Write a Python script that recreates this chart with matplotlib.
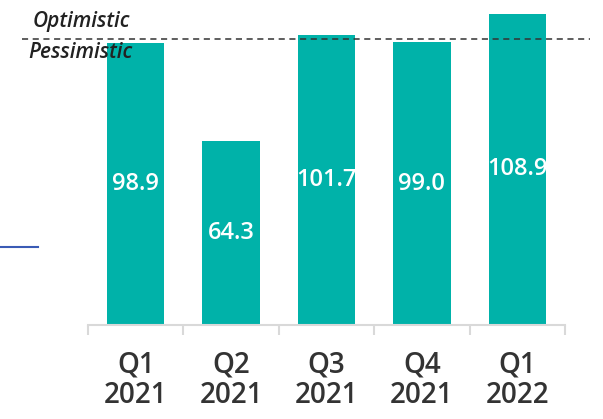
import matplotlib
matplotlib.use("Agg")
import matplotlib.pyplot as plt
from matplotlib.lines import Line2D

categories = ["Q1\n2021", "Q2\n2021", "Q3\n2021", "Q4\n2021", "Q1\n2022"]
values = [98.9, 64.3, 101.7, 99.0, 108.9]
threshold = 100
bar_color = "#00B2A9"

plt.rcParams["font.family"] = ["Open Sans", "DejaVu Sans"]

W, H = 603, 419
fig = plt.figure(figsize=(W / 100, H / 100), dpi=100)
ax = fig.add_axes([88 / W, 1 - 325 / H, 477 / W, 325 / H])

x = list(range(len(values)))
bars = ax.bar(x, values, width=0.6, color=bar_color)

# value labels centred in each bar
for xi, v in zip(x, values):
    ax.text(xi, v / 2, f"{v:.1f}", ha="center", va="center",
            color="white", fontsize=17, fontweight="semibold")

ax.set_xlim(-0.5, len(values) - 0.5)
ax.set_ylim(0, 113.8)

# optimistic / pessimistic divider
ax.axhline(threshold, xmin=-0.138, xmax=1.052, color="#333333",
           lw=1.1, ls=(0, (4, 3)), clip_on=False, zorder=3)
fig.text(33 / W, 1 - 21 / H, "Optimistic", style="italic", fontweight="semibold",
         fontsize=15, color="#222222", ha="left", va="center")
fig.text(28 / W, 1 - 52 / H, "Pessimistic", style="italic", fontweight="semibold",
         fontsize=15, color="#222222", ha="left", va="center", zorder=4)

for s in ["top", "right", "left"]:
    ax.spines[s].set_visible(False)
ax.spines["bottom"].set_color("#d9d9d9")
ax.spines["bottom"].set_linewidth(1.5)
ax.set_yticks([])

ax.set_xticks(x)
ax.set_xticklabels(categories, fontsize=20, color="#333333", linespacing=1.08,
                   fontweight="semibold")
ax.tick_params(axis="x", which="major", length=0, pad=18)
ax.set_xticks([i - 0.5 for i in range(len(values) + 1)], minor=True)
ax.tick_params(axis="x", which="minor", length=7, width=1.5, color="#d9d9d9")

# small stray blue rule at the left edge
fig.add_artist(Line2D([0, 38 / W], [1 - 247 / H] * 2,
                      color="#3a5bb5", lw=1.5))

fig.savefig("out.png", dpi=100)
